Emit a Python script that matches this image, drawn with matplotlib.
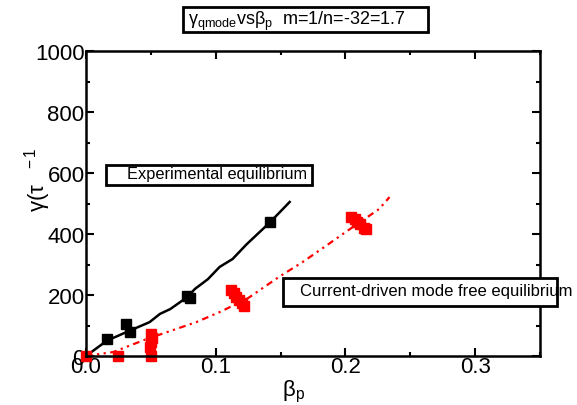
import numpy as np
import matplotlib
matplotlib.use('Agg')
import matplotlib.pyplot as plt
from matplotlib.patches import Rectangle
from matplotlib.ticker import MultipleLocator, FormatStrFormatter

plt.rcParams['font.family'] = ['Liberation Sans', 'DejaVu Sans']
plt.rcParams['mathtext.fontset'] = 'custom'
plt.rcParams['mathtext.rm'] = 'Liberation Sans'
plt.rcParams['mathtext.it'] = 'Liberation Sans:italic'

# --- data ---
exp_line_x = [0.0, 0.016, 0.031, 0.049, 0.057, 0.065, 0.078, 0.084, 0.094,
              0.103, 0.113, 0.124, 0.142, 0.157]
exp_line_y = [0, 50, 78, 111, 138, 154, 193, 220, 252, 292, 318, 367, 439, 505]
exp_pts_x = [0.016, 0.031, 0.034, 0.078, 0.080, 0.142]
exp_pts_y = [55, 105, 80, 197, 190, 438]

cd_line_x = [0.0, 0.021, 0.047, 0.065, 0.085, 0.103, 0.124, 0.149, 0.167,
             0.185, 0.2, 0.226, 0.234]
cd_line_y = [0, 13, 56, 82, 111, 144, 187, 260, 308, 361, 406, 482, 521]
cd_pts_x = [0.0, 0.025, 0.05, 0.049, 0.05, 0.051, 0.05,
            0.112, 0.114, 0.116, 0.118, 0.120, 0.122,
            0.204, 0.207, 0.209, 0.211, 0.214, 0.216]
cd_pts_y = [0, 0, 0, 30, 45, 60, 72,
            215, 205, 195, 185, 175, 165,
            455, 450, 440, 432, 420, 415]

W, H = 577, 406
fig = plt.figure(figsize=(W / 100, H / 100), dpi=100)
ax = fig.add_axes([86 / W, 1 - 357 / H, (540 - 86) / W, (357 - 52) / H])

ax.plot(exp_line_x, exp_line_y, color='black', lw=1.8)
ax.plot(exp_pts_x, exp_pts_y, 's', color='black', ms=7)
ax.plot(cd_line_x, cd_line_y, color='red', lw=1.6,
        linestyle=(0, (3, 2, 1, 2, 1, 2)))
ax.plot(cd_pts_x, cd_pts_y, 's', color='red', ms=7, clip_on=False)

ax.set_xlim(0, 0.35)
ax.set_ylim(0, 1000)
ax.xaxis.set_major_locator(MultipleLocator(0.1))
ax.xaxis.set_minor_locator(MultipleLocator(0.05))
ax.yaxis.set_major_locator(MultipleLocator(200))
ax.yaxis.set_minor_locator(MultipleLocator(100))
ax.xaxis.set_major_formatter(FormatStrFormatter('%.1f'))
ax.tick_params(which='both', direction='in', top=True, right=True,
               width=1.5, labelsize=16)
ax.tick_params(which='major', length=6, pad=1)
ax.tick_params(which='minor', length=3)
ax.tick_params(axis='x', pad=0)
for s in ax.spines.values():
    s.set_linewidth(1.8)

fig.text(293 / W, 1 - 392 / H, r'β$_\mathrm{p}$', fontsize=16,
         ha='center', va='center')
fig.text(38 / W, 1 - 180 / H, r'γ(τ$^{\ \ \ -1}$', fontsize=16,
         rotation=90, ha='center', va='center')

# title box
fig.add_artist(Rectangle((183 / W, 1 - 33 / H), 245 / W, 25 / H,
                         transform=fig.transFigure, fc='white', ec='black', lw=2))
fig.text(188 / W, 1 - 21 / H,
         r'γ$_\mathrm{qmode}$vsβ$_\mathrm{p}$  m=1/n=-32=1.7',
         fontsize=13, ha='left', va='center')

# annotation boxes
fig.add_artist(Rectangle((106 / W, 1 - 186 / H), 206 / W, 20 / H,
                         transform=fig.transFigure, fc='white', ec='black', lw=2))
fig.text(127 / W, 1 - 175 / H, 'Experimental equilibrium', fontsize=11.8,
         ha='left', va='center')
fig.add_artist(Rectangle((283 / W, 1 - 307 / H), 274 / W, 28 / H,
                         transform=fig.transFigure, fc='white', ec='black', lw=2))
fig.text(300 / W, 1 - 292 / H, 'Current-driven mode free equilibrium',
         fontsize=12, ha='left', va='center')

fig.savefig('out.png', dpi=100)
